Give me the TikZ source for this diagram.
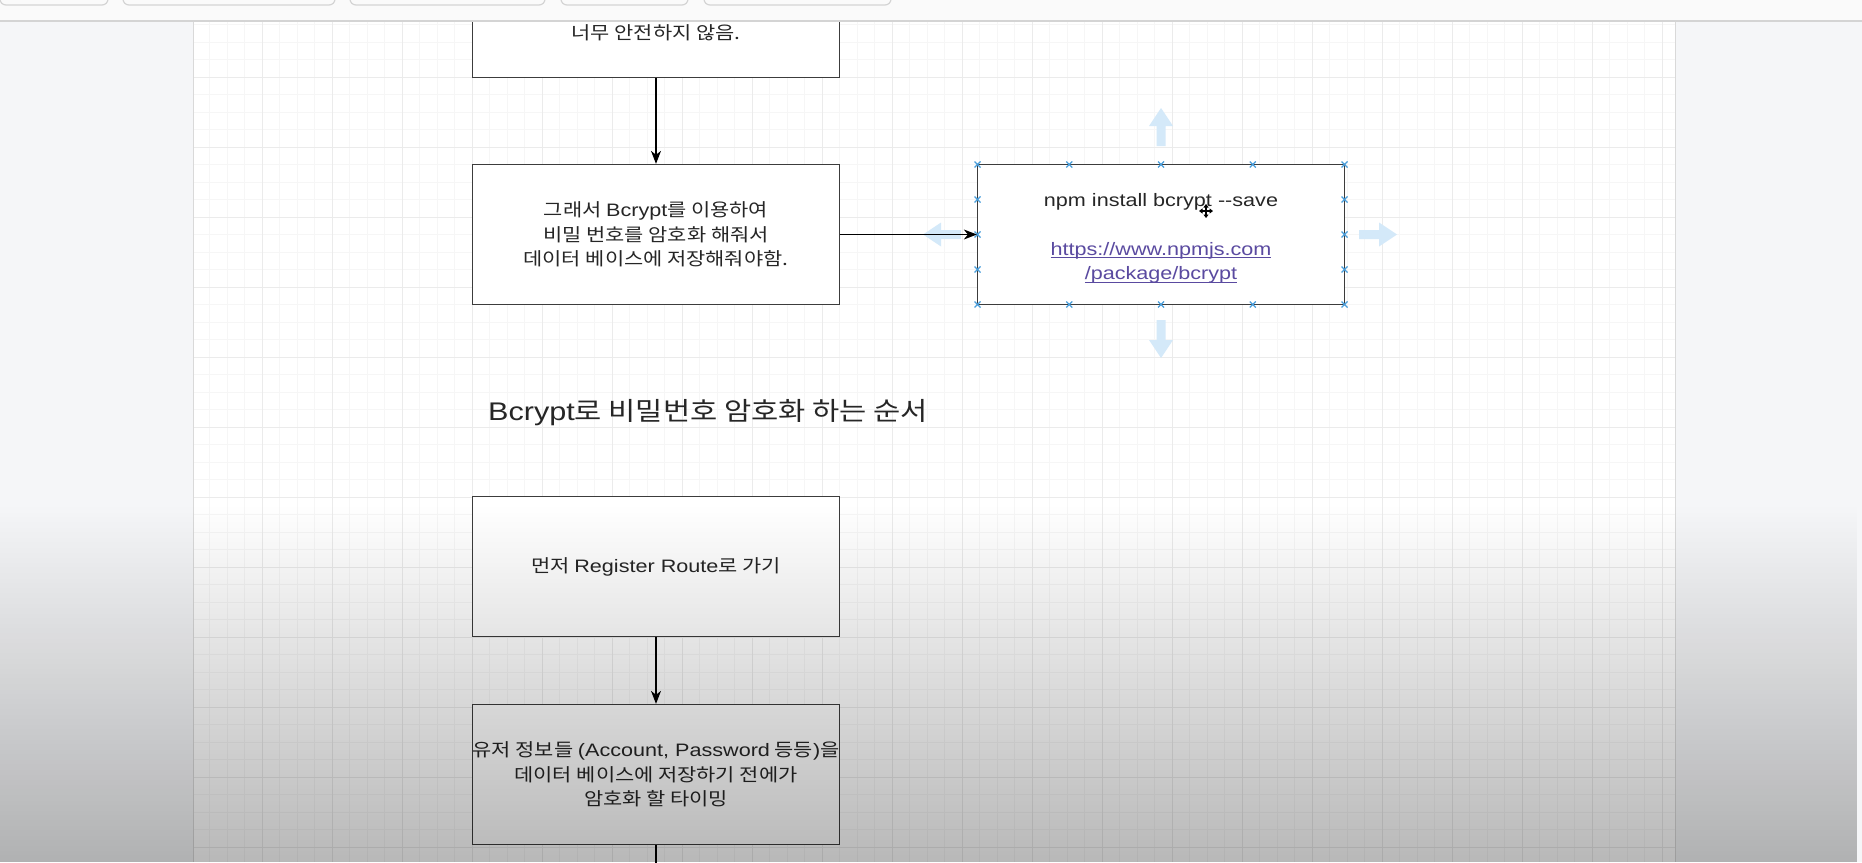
\documentclass[tikz,border=0pt]{standalone}
\usepackage{fontspec}
\setmainfont{Noto Sans CJK KR}[FakeStretch=1.16]
\newfontfamily\lat{Liberation Sans}[FakeStretch=1.2]
\usetikzlibrary{arrows.meta,fadings}

\definecolor{gridminor}{HTML}{F6F6F6}
\definecolor{gridmajor}{HTML}{EBEBEB}
\definecolor{panel}{HTML}{F5F6F8}
\definecolor{hoverblue}{HTML}{D4E9F9}
\definecolor{pointblue}{HTML}{4A9EDB}
\definecolor{linkpurple}{HTML}{5A4AA0}
\definecolor{boxline}{HTML}{3C3C3C}
\tikzfading[name=fadedown, top color=transparent!100, bottom color=transparent!0]
\newcommand\urlline[1]{\setbox0\hbox{#1}\rlap{\rule[-3pt]{\wd0}{1pt}}\box0}

\tikzset{
  stepbox/.style={draw=boxline, line width=1.3pt, fill=white, minimum width=367pt,
    minimum height=140pt, inner sep=0pt, align=center, text=black!85,
    font=\fontsize{18}{24.5}\selectfont},
  conn/.style={draw=black, line width=1.2pt, -{Stealth[length=13pt,width=10pt,inset=4pt]}},
  cpoint/.style={draw=pointblue, line width=1.1pt},
  tabline/.style={draw=black!17, line width=1.2pt, rounded corners=6pt}
}

\begin{document}
\begin{tikzpicture}[x=1pt,y=-1pt]
\useasboundingbox (0,0) rectangle (1862,862);
\fill[white] (0,0) rectangle (1862,862);
\fill[panel] (0,21) rectangle (193,862);
\fill[panel] (1675,21) rectangle (1862,862);

\begin{scope}
\clip (193,21) rectangle (1675,862);
\foreach \k in {0,...,84}
    {\draw[gridminor, line width=0.8pt] ({192+17.5*\k},21) -- ++(0,841);}
\foreach \k in {1,...,49}
    {\draw[gridminor, line width=0.8pt] (193,{7+17.5*\k}) -- ++(1482,0);}
\foreach \k in {0,...,21}
    {\draw[gridmajor, line width=1pt] ({192+70*\k},21) -- ++(0,841);}
\foreach \k in {1,...,12}
    {\draw[gridmajor, line width=1pt] (193,{7+70*\k}) -- ++(1482,0);}
\end{scope}
\draw[black!15, line width=1pt] (193,21) -- (193,862);
\draw[black!15, line width=1pt] (1675,21) -- (1675,862);

\node[stepbox, text height=66pt, text depth=3pt] (unsafe) at (656,7.5) {너무 안전하지 않음.};
\node[stepbox] (usebcrypt) at (656,234.5)
    {그래서 {\lat Bcrypt}를 이용하여\\비밀 번호를 암호화 해줘서\\데이터 베이스에 저장해줘야함.};
\node[stepbox, font=\lat\fontsize{18}{24.5}\selectfont] (install) at (1161,234.5)
    {\rule{0pt}{20.5pt}npm install bcrypt -\kern0pt-save\\[24.5pt]
     \textcolor{linkpurple}{\urlline{https://www.npmjs.com}}\\
     \textcolor{linkpurple}{\urlline{/package/bcrypt}}};

\foreach \ax/\ay/\ang in {1161/146/90, 1161/320/-90, 1359/234.5/0, 961/234.5/180}
    {\fill[hoverblue, shift={(\ax,\ay)}, rotate=\ang]
        (0,-4.5) -- (20,-4.5) -- (20,-12) -- (38,0) -- (20,12) -- (20,4.5) -- (0,4.5) -- cycle;}
\foreach \x in {977.5,1069.25,1161,1252.75,1344.5}
    {\draw[cpoint] ({\x-3},161.5) -- ({\x+3},167.5) ({\x-3},167.5) -- ({\x+3},161.5);
     \draw[cpoint] ({\x-3},301.5) -- ({\x+3},307.5) ({\x-3},307.5) -- ({\x+3},301.5);}
\foreach \y in {199.5,234.5,269.5}
    {\draw[cpoint] (974.5,{\y-3}) -- (980.5,{\y+3}) (974.5,{\y+3}) -- (980.5,{\y-3});
     \draw[cpoint] (1341.5,{\y-3}) -- (1347.5,{\y+3}) (1341.5,{\y+3}) -- (1347.5,{\y-3});}

\node[anchor=base west, inner sep=0pt, text=black!85, font=\fontsize{25.5}{30}\selectfont] (title)
    at (488,420) {{\lat Bcrypt}로 비밀번호 암호화 하는 순서};

\node[stepbox] (route) at (656,566.5) {먼저 {\lat Register Route}로 가기};
\node[stepbox] (timing) at (656,774.5)
    {유저 정보들 {\lat (Account, Password} 등등{\lat )}을\\데이터 베이스에 저장하기 전에가\\암호화 할 타이밍};
\coordinate (next) at (656,890);

\draw[conn] (unsafe) -- (usebcrypt);
\draw[conn] (usebcrypt) -- (install);
\draw[conn] (route) -- (timing);
\draw[black, line width=1.2pt] (timing) -- (next);

\draw[black, line width=1.3pt, {Triangle[length=3.5pt,width=5pt]}-{Triangle[length=3.5pt,width=5pt]}]
    (1199,211) -- (1213,211);
\draw[black, line width=1.3pt, {Triangle[length=3.5pt,width=5pt]}-{Triangle[length=3.5pt,width=5pt]}]
    (1206,204) -- (1206,218);

\fill[white!98!black] (0,0) rectangle (1862,21);
\foreach \ta/\tb in {0/108,123/335,350/545,561/688,704/891}
    {\draw[tabline] (\ta,-14) rectangle (\tb,5);}
\draw[black!17, line width=1.5pt] (0,21) -- (1862,21);

\fill[black, path fading=fadedown, fill opacity=0.28] (0,505) rectangle (1862,862);
\end{tikzpicture}
\end{document}
